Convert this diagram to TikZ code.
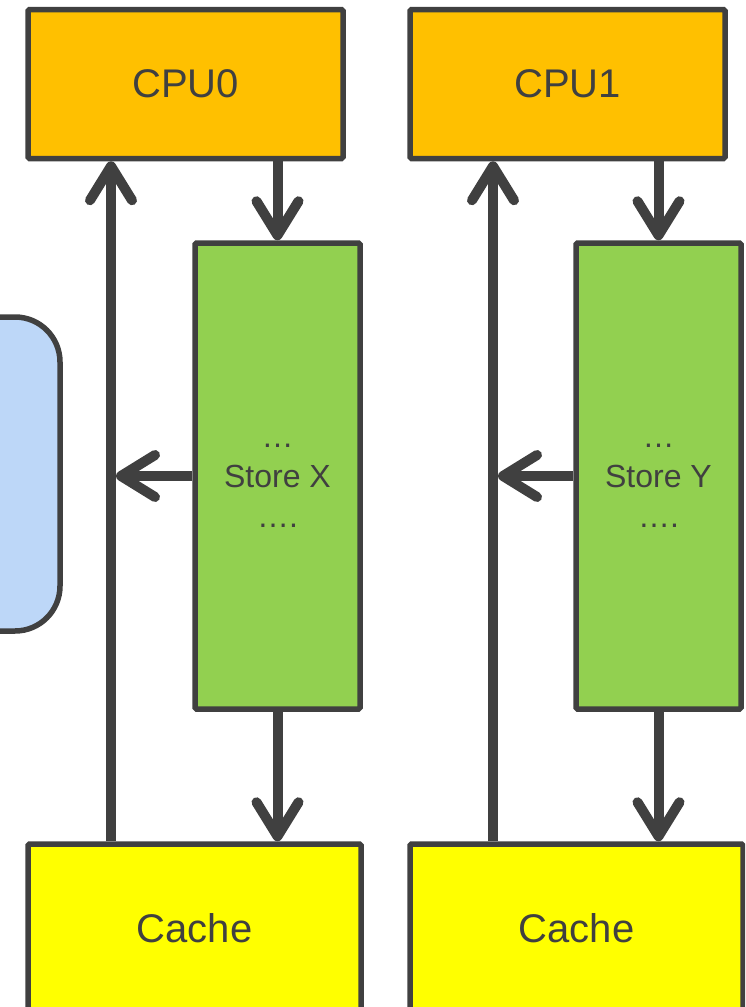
\documentclass[tikz,border=0pt]{standalone}
\usepackage{fontspec}
\setmainfont{Liberation Sans}
\usepackage{tikz}
\usetikzlibrary{positioning,arrows.meta}
\usepackage{xcolor}
\definecolor{darkline}{HTML}{404040}
\definecolor{cpuorange}{HTML}{FFC000}
\definecolor{sbgreen}{HTML}{92D050}
\definecolor{cacheyellow}{HTML}{FFFF00}
\definecolor{memblue}{RGB}{189,215,248}

\begin{document}
\begin{tikzpicture}[x=1pt, y=-1pt, >={Straight Barb[length=34pt,width=42pt,round]},
	every box/.style={draw=darkline, line width=5.5pt, rounded corners=1.5pt, text=darkline, inner sep=0pt},
	cpu box/.style={every box, fill=cpuorange, minimum width=315pt, minimum height=149pt, font=\fontsize{40}{48}\selectfont},
	sb box/.style={every box, fill=sbgreen, minimum width=165pt, minimum height=466pt, font=\fontsize{32}{40}\selectfont},
	cache box/.style={every box, fill=cacheyellow, minimum width=333pt, minimum height=168pt, font=\fontsize{40}{48}\selectfont},
	bus/.style={draw=darkline, line width=10pt}]
	
	\clip (0,0) rectangle (745,1007);
	
	% memory
	\node [every box, fill=memblue, rounded corners=45pt, minimum width=120pt, minimum height=314pt] (mem) at (0,474) {};
	
	\foreach \i/\l in {0/X,1/Y} {
	  \node [cpu box] (cpu-\i) at (185.5+382*\i,84) {CPU\i};
	  \node [sb box] (sb-\i) at (277.5+381*\i,476)
	    {\raisebox{-16pt}[0pt][0pt]{\parbox{160pt}{\centering …\\Store \l\\….}}};
	  \node [cache box] (cache-\i) at (194.5+382*\i,928) {Cache};
	  \coordinate (bus-\i) at (111+382*\i,476);
	  
	  %read path
	  \draw [bus,->] (cache-\i.north -| bus-\i) -- (cpu-\i.south -| bus-\i);
	  %store path
	  \draw [bus,->] (cpu-\i.south -| sb-\i.north) -- (sb-\i.north);
	  \draw [bus,->] (sb-\i.south) -- (cache-\i.north -| sb-\i.south);
	  %forwarding
	  \draw [bus,->] (sb-\i.west) -- ([xshift=5]bus-\i);
	}
\end{tikzpicture}
\end{document}
